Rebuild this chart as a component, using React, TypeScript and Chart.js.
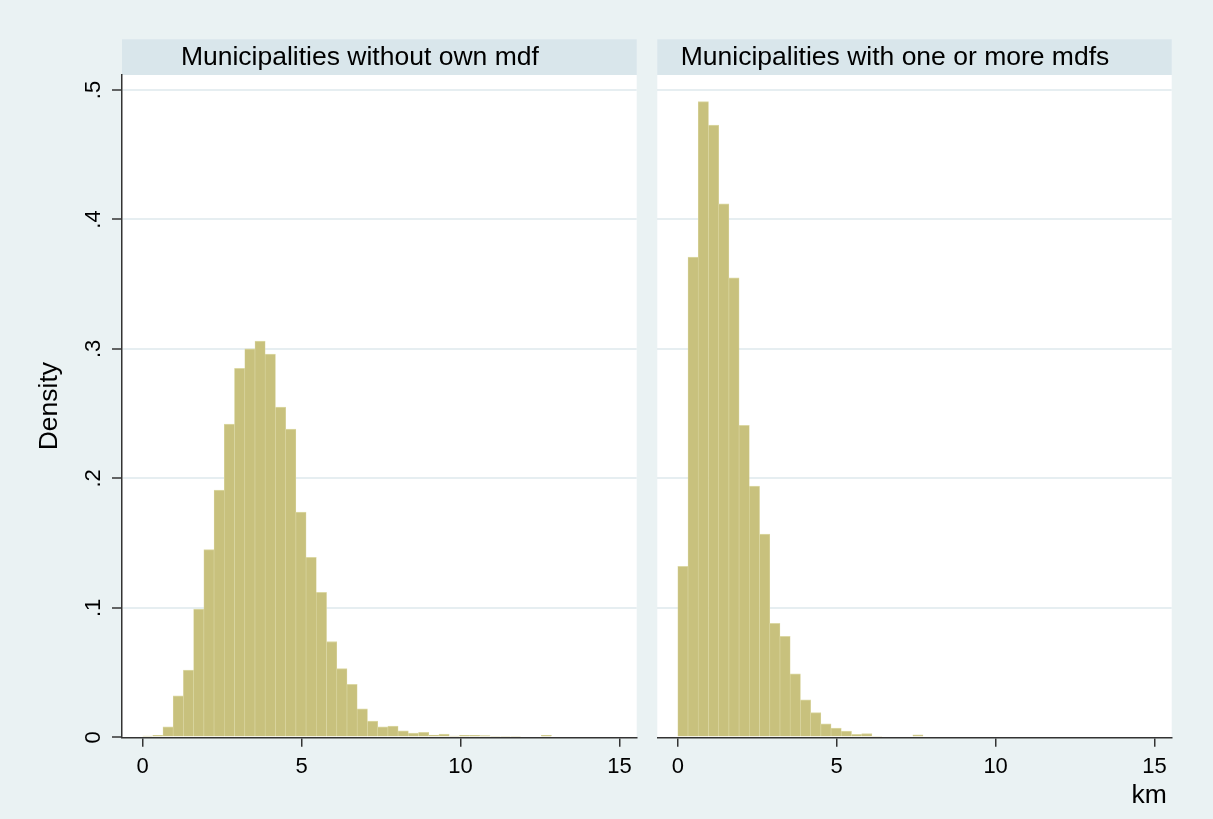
import React, { useEffect, useRef } from 'react';
import { Chart, registerables } from 'chart.js';

Chart.register(...registerables);

// ---------------- data ----------------
const panelTitles = ['Municipalities without own mdf', 'Municipalities with one or more mdfs'];
const yAxisTitle = 'Density';
const xAxisTitle = 'km';

const binStart = 0;
const binWidth = 0.3215;

// density per bin (km), municipalities without own mdf
const densityWithout = [
  0.001, 0.0015, 0.008, 0.032, 0.052, 0.099, 0.145, 0.191, 0.242, 0.285,
  0.300, 0.306, 0.296, 0.255, 0.238, 0.174, 0.139, 0.112, 0.074, 0.053,
  0.041, 0.022, 0.0126, 0.008, 0.0087, 0.005, 0.0033, 0.0038, 0.0018, 0.0025,
  0.001, 0.0015, 0.0015, 0.0013, 0.0008, 0.0008, 0.0008, 0, 0, 0.0015,
];

// density per bin (km), municipalities with one or more mdfs
const densityWith = [
  0.132, 0.371, 0.491, 0.473, 0.412, 0.355, 0.241, 0.194, 0.157, 0.088,
  0.078, 0.049, 0.029, 0.019, 0.0104, 0.0072, 0.0049, 0.0023, 0.0029, 0.0007,
  0, 0, 0, 0.002,
];

const xTicks = [0, 5, 10, 15];
const xTickLabels = ['0', '5', '10', '15'];
const yTicks = [0, 0.1, 0.2, 0.3, 0.4, 0.5];
const yTickLabels = ['0', '.1', '.2', '.3', '.4', '.5'];

// ---------------- style / layout ----------------
const W = 1213;
const H = 819;
const FONT = '"Liberation Sans", Arial, Helvetica, sans-serif';
const BG = '#EAF2F3';
const STRIP = '#D9E6EB';
const GRID = '#E6EEF1';
const AXIS = '#333333';
const BAR_FILL = '#C8C17D';
const BAR_EDGE = '#DCD8A4';

const X_MIN = -0.645;
const X_MAX = 15.54;
const Y_MAX = 0.5116;

const PLOT_TOP = 75;
const PLOT_BOTTOM = 737.3;
const STRIP_TOP = 39.3;
const STRIP_BASELINE = 65.3;
const TITLE_SHIFT = -19.5;
const X_LABEL_BASELINE = 773;
const Y_LABEL_BASELINE = 100;
const Y_TITLE_BASELINE = 57.3;
const X_TITLE_BASELINE = 803.3;

type PanelGeom = {
  canvasLeft: number;
  canvasWidth: number;
  plotLeft: number;
  plotRight: number;
};

const geomA: PanelGeom = { canvasLeft: 0, canvasWidth: 647, plotLeft: 122, plotRight: 636.7 };
const geomB: PanelGeom = { canvasLeft: 647, canvasWidth: 566, plotLeft: 657.3, plotRight: 1171.7 };

function buildConfig(
  values: number[],
  title: string,
  geom: PanelGeom,
  showY: boolean,
  showXTitle: boolean
): any {
  const points = values.map((v, i) => ({ x: binStart + (i + 0.5) * binWidth, y: v }));
  const localLeft = geom.plotLeft - geom.canvasLeft;
  const localRight = geom.plotRight - geom.canvasLeft;

  const decor = {
    id: 'panelDecor',
    beforeDraw(chart: any) {
      const { ctx, chartArea: a } = chart;
      ctx.save();
      ctx.fillStyle = '#FFFFFF';
      ctx.fillRect(a.left, a.top, a.right - a.left, a.bottom - a.top);
      ctx.fillStyle = STRIP;
      ctx.fillRect(a.left, STRIP_TOP, a.right - a.left, a.top - STRIP_TOP);
      ctx.fillStyle = '#000000';
      ctx.font = `26.5px ${FONT}`;
      ctx.textAlign = 'center';
      ctx.textBaseline = 'alphabetic';
      ctx.fillText(title, (a.left + a.right) / 2 + TITLE_SHIFT, STRIP_BASELINE);
      ctx.restore();
    },
    afterDraw(chart: any) {
      const { ctx, chartArea: a } = chart;
      const xs = chart.scales.x;
      const ys = chart.scales.y;
      ctx.save();
      ctx.fillStyle = '#000000';
      ctx.textBaseline = 'alphabetic';
      ctx.textAlign = 'center';
      ctx.font = `22px ${FONT}`;
      xTicks.forEach((v, i) => {
        ctx.fillText(xTickLabels[i], xs.getPixelForValue(v), X_LABEL_BASELINE);
      });
      if (showY) {
        yTicks.forEach((v, i) => {
          ctx.save();
          ctx.translate(Y_LABEL_BASELINE, ys.getPixelForValue(v));
          ctx.rotate(-Math.PI / 2);
          ctx.fillText(yTickLabels[i], 0, 0);
          ctx.restore();
        });
        ctx.save();
        ctx.font = `26.5px ${FONT}`;
        ctx.translate(Y_TITLE_BASELINE, (a.top + a.bottom) / 2);
        ctx.rotate(-Math.PI / 2);
        ctx.fillText(yAxisTitle, 0, 0);
        ctx.restore();
      }
      if (showXTitle) {
        ctx.font = `26.5px ${FONT}`;
        ctx.textAlign = 'right';
        ctx.fillText(xAxisTitle, a.right - 5, X_TITLE_BASELINE);
      }
      ctx.restore();
    },
  };

  return {
    type: 'bar',
    data: {
      datasets: [
        {
          data: points,
          backgroundColor: BAR_FILL,
          borderColor: BAR_EDGE,
          borderWidth: { top: 1, left: 0.6, right: 0.6, bottom: 0 },
          borderSkipped: 'start',
          barPercentage: 1,
          categoryPercentage: 1,
        },
      ],
    },
    options: {
      responsive: false,
      maintainAspectRatio: false,
      animation: false,
      devicePixelRatio: 1,
      layout: {
        padding: {
          left: showY ? 0 : localLeft,
          right: geom.canvasWidth - localRight,
          top: PLOT_TOP,
          bottom: 0,
        },
      },
      plugins: {
        legend: { display: false },
        title: { display: false },
        tooltip: { enabled: false },
      },
      scales: {
        x: {
          type: 'linear',
          min: X_MIN,
          max: X_MAX,
          offset: false,
          afterBuildTicks: (s: any) => {
            s.ticks = xTicks.map((v) => ({ value: v }));
          },
          afterFit: (s: any) => {
            s.height = H - PLOT_BOTTOM;
          },
          ticks: { display: false },
          grid: {
            display: true,
            offset: false,
            drawOnChartArea: false,
            drawTicks: true,
            tickLength: 9.5,
            tickColor: AXIS,
            tickWidth: 1.5,
            color: AXIS,
            lineWidth: 1.5,
          },
          border: { display: true, color: AXIS, width: 1.5 },
        },
        y: {
          type: 'linear',
          min: 0,
          max: Y_MAX,
          afterBuildTicks: (s: any) => {
            s.ticks = yTicks.map((v) => ({ value: v }));
          },
          afterFit: (s: any) => {
            s.width = showY ? localLeft : 0;
          },
          ticks: { display: false },
          grid: {
            display: true,
            drawOnChartArea: true,
            drawTicks: showY,
            tickLength: 10,
            tickColor: AXIS,
            tickWidth: 1.5,
            lineWidth: 2,
            color: (c: any) => (c.tick && c.tick.value === 0 ? 'rgba(0,0,0,0)' : GRID),
          },
          border: { display: showY, color: AXIS, width: 1.5 },
        },
      },
    },
    plugins: [decor],
  };
}

function Panel(props: {
  values: number[];
  title: string;
  geom: PanelGeom;
  showY: boolean;
  showXTitle: boolean;
}) {
  const ref = useRef<HTMLCanvasElement | null>(null);
  useEffect(() => {
    if (!ref.current) return;
    const chart = new Chart(
      ref.current,
      buildConfig(props.values, props.title, props.geom, props.showY, props.showXTitle)
    );
    return () => chart.destroy();
  }, []);
  return (
    <canvas
      ref={ref}
      width={props.geom.canvasWidth}
      height={H}
      style={{
        position: 'absolute',
        left: props.geom.canvasLeft,
        top: 0,
        width: props.geom.canvasWidth,
        height: H,
        display: 'block',
      }}
    />
  );
}

export default function App() {
  return (
    <div
      style={{
        position: 'fixed',
        left: 0,
        top: 0,
        width: W,
        height: H,
        background: BG,
        overflow: 'hidden',
      }}
    >
      <Panel values={densityWithout} title={panelTitles[0]} geom={geomA} showY={true} showXTitle={false} />
      <Panel values={densityWith} title={panelTitles[1]} geom={geomB} showY={false} showXTitle={true} />
    </div>
  );
}
